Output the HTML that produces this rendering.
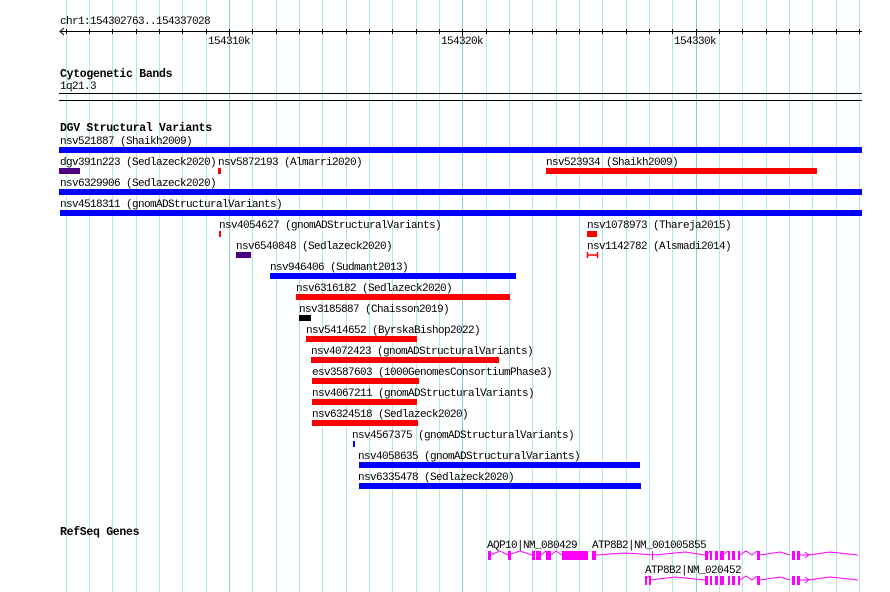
<!DOCTYPE html>
<html><head><style>
html,body{margin:0;padding:0;background:#fff;width:890px;height:592px;overflow:hidden}
svg text{font-family:"Liberation Mono","DejaVu Sans Mono",monospace;font-size:11px;letter-spacing:-0.6px;fill:#000}
svg text.b{font-weight:bold;font-size:11.5px;letter-spacing:-0.3px}
</style></head><body>
<svg width="890" height="592" xmlns="http://www.w3.org/2000/svg">
<g stroke="#b4e4ee" stroke-width="1">
<line x1="66.5" y1="0" x2="66.5" y2="592"/><line x1="89.5" y1="0" x2="89.5" y2="592"/><line x1="112.5" y1="0" x2="112.5" y2="592"/><line x1="136.5" y1="0" x2="136.5" y2="592"/><line x1="159.5" y1="0" x2="159.5" y2="592"/><line x1="182.5" y1="0" x2="182.5" y2="592"/><line x1="206.5" y1="0" x2="206.5" y2="592"/>
<line x1="252.5" y1="0" x2="252.5" y2="592"/><line x1="276.5" y1="0" x2="276.5" y2="592"/><line x1="299.5" y1="0" x2="299.5" y2="592"/><line x1="322.5" y1="0" x2="322.5" y2="592"/><line x1="346.5" y1="0" x2="346.5" y2="592"/><line x1="369.5" y1="0" x2="369.5" y2="592"/><line x1="392.5" y1="0" x2="392.5" y2="592"/><line x1="416.5" y1="0" x2="416.5" y2="592"/><line x1="439.5" y1="0" x2="439.5" y2="592"/>
<line x1="486.5" y1="0" x2="486.5" y2="592"/><line x1="509.5" y1="0" x2="509.5" y2="592"/><line x1="532.5" y1="0" x2="532.5" y2="592"/><line x1="556.5" y1="0" x2="556.5" y2="592"/><line x1="579.5" y1="0" x2="579.5" y2="592"/><line x1="602.5" y1="0" x2="602.5" y2="592"/><line x1="626.5" y1="0" x2="626.5" y2="592"/><line x1="649.5" y1="0" x2="649.5" y2="592"/><line x1="672.5" y1="0" x2="672.5" y2="592"/>
<line x1="719.5" y1="0" x2="719.5" y2="592"/><line x1="742.5" y1="0" x2="742.5" y2="592"/><line x1="766.5" y1="0" x2="766.5" y2="592"/><line x1="789.5" y1="0" x2="789.5" y2="592"/><line x1="812.5" y1="0" x2="812.5" y2="592"/><line x1="836.5" y1="0" x2="836.5" y2="592"/><line x1="859.5" y1="0" x2="859.5" y2="592"/>
</g>
<g stroke="#8ccbe0" stroke-width="1">
<line x1="229.5" y1="0" x2="229.5" y2="592"/><line x1="462.5" y1="0" x2="462.5" y2="592"/><line x1="696.5" y1="0" x2="696.5" y2="592"/>
</g>
<text x="60" y="24">chr1:154302763..154337028</text>
<line x1="60" y1="31.5" x2="862" y2="31.5" stroke="#000"/>
<path d="M64 28 L60 31.5 L64 35" fill="none" stroke="#000"/>
<g stroke="#000">
<line x1="66.5" y1="29" x2="66.5" y2="34"/><line x1="89.5" y1="29" x2="89.5" y2="34"/><line x1="112.5" y1="29" x2="112.5" y2="34"/><line x1="136.5" y1="29" x2="136.5" y2="34"/><line x1="159.5" y1="29" x2="159.5" y2="34"/><line x1="182.5" y1="29" x2="182.5" y2="34"/><line x1="206.5" y1="29" x2="206.5" y2="34"/><line x1="229.5" y1="29" x2="229.5" y2="36"/>
<line x1="252.5" y1="29" x2="252.5" y2="34"/><line x1="276.5" y1="29" x2="276.5" y2="34"/><line x1="299.5" y1="29" x2="299.5" y2="34"/><line x1="322.5" y1="29" x2="322.5" y2="34"/><line x1="346.5" y1="29" x2="346.5" y2="34"/><line x1="369.5" y1="29" x2="369.5" y2="34"/><line x1="392.5" y1="29" x2="392.5" y2="34"/><line x1="416.5" y1="29" x2="416.5" y2="34"/><line x1="439.5" y1="29" x2="439.5" y2="34"/><line x1="462.5" y1="29" x2="462.5" y2="36"/>
<line x1="486.5" y1="29" x2="486.5" y2="34"/><line x1="509.5" y1="29" x2="509.5" y2="34"/><line x1="532.5" y1="29" x2="532.5" y2="34"/><line x1="556.5" y1="29" x2="556.5" y2="34"/><line x1="579.5" y1="29" x2="579.5" y2="34"/><line x1="602.5" y1="29" x2="602.5" y2="34"/><line x1="626.5" y1="29" x2="626.5" y2="34"/><line x1="649.5" y1="29" x2="649.5" y2="34"/><line x1="672.5" y1="29" x2="672.5" y2="34"/><line x1="696.5" y1="29" x2="696.5" y2="36"/>
<line x1="719.5" y1="29" x2="719.5" y2="34"/><line x1="742.5" y1="29" x2="742.5" y2="34"/><line x1="766.5" y1="29" x2="766.5" y2="34"/><line x1="789.5" y1="29" x2="789.5" y2="34"/><line x1="812.5" y1="29" x2="812.5" y2="34"/><line x1="836.5" y1="29" x2="836.5" y2="34"/><line x1="859.5" y1="29" x2="859.5" y2="34"/>
</g>
<text x="208" y="44">154310k</text><text x="441" y="44">154320k</text><text x="674" y="44">154330k</text>

<text class="b" x="60" y="77">Cytogenetic Bands</text>
<text x="60" y="89">1q21.3</text>
<line x1="59" y1="93.5" x2="862" y2="93.5" stroke="#000"/>
<line x1="59" y1="100.5" x2="862" y2="100.5" stroke="#000"/>

<text class="b" x="60" y="131">DGV Structural Variants</text>
<text x="60" y="144">nsv521887 (Shaikh2009)</text>
<rect x="59" y="147" width="803" height="6" fill="#0000ff"/>
<text x="60" y="165">dgv391n223 (Sedlazeck2020)</text>
<rect x="59" y="168" width="21" height="6" fill="#4b0082"/>
<text x="218" y="165">nsv5872193 (Almarri2020)</text>
<rect x="218" y="168" width="3" height="6" fill="#ff0000"/>
<text x="546" y="165">nsv523934 (Shaikh2009)</text>
<rect x="546" y="168" width="271" height="6" fill="#ff0000"/>
<text x="60" y="186">nsv6329906 (Sedlazeck2020)</text>
<rect x="59" y="189" width="803" height="6" fill="#0000ff"/>
<text x="60" y="207">nsv4518311 (gnomADStructuralVariants)</text>
<rect x="60" y="210" width="802" height="6" fill="#0000ff"/>

<text x="219" y="228">nsv4054627 (gnomADStructuralVariants)</text>
<rect x="219" y="231" width="2" height="6" fill="#ff0000"/>
<text x="587" y="228">nsv1078973 (Thareja2015)</text>
<rect x="587" y="231" width="10" height="6" fill="#ff0000"/>
<text x="236" y="249">nsv6540848 (Sedlazeck2020)</text>
<rect x="236" y="252" width="15" height="6" fill="#4b0082"/>
<text x="587" y="249">nsv1142782 (Alsmadi2014)</text>
<path d="M587.5 252 V258 M597.5 252 V258 M587 255 H598" stroke="#ff0000" stroke-width="1.5"/>
<text x="270" y="270">nsv946406 (Sudmant2013)</text>
<rect x="270" y="273" width="246" height="6" fill="#0000ff"/>
<text x="296" y="291">nsv6316182 (Sedlazeck2020)</text>
<rect x="296" y="294" width="214" height="6" fill="#ff0000"/>
<text x="299" y="312">nsv3185887 (Chaisson2019)</text>
<rect x="299" y="315" width="12" height="6" fill="#000"/>
<text x="306" y="333">nsv5414652 (ByrskaBishop2022)</text>
<rect x="306" y="336" width="111" height="6" fill="#ff0000"/>
<text x="311" y="354">nsv4072423 (gnomADStructuralVariants)</text>
<rect x="311" y="357" width="188" height="6" fill="#ff0000"/>
<text x="312" y="375">esv3587603 (1000GenomesConsortiumPhase3)</text>
<rect x="312" y="378" width="107" height="6" fill="#ff0000"/>
<text x="312" y="396">nsv4067211 (gnomADStructuralVariants)</text>
<rect x="312" y="399" width="105" height="6" fill="#ff0000"/>
<text x="312" y="417">nsv6324518 (Sedlazeck2020)</text>
<rect x="312" y="420" width="106" height="6" fill="#ff0000"/>
<text x="352" y="438">nsv4567375 (gnomADStructuralVariants)</text>
<rect x="353" y="441" width="2" height="6" fill="#0000ff"/>
<text x="358" y="459">nsv4058635 (gnomADStructuralVariants)</text>
<rect x="359" y="462" width="281" height="6" fill="#0000ff"/>
<text x="358" y="480">nsv6335478 (Sedlazeck2020)</text>
<rect x="359" y="483" width="282" height="6" fill="#0000ff"/>

<text class="b" x="60" y="535">RefSeq Genes</text>
<text x="487" y="548">AQP10|NM_080429</text>
<text x="592" y="548">ATP8B2|NM_001005855</text>
<text x="645" y="573">ATP8B2|NM_020452</text>
<g fill="#ff00ff" stroke="none">
<path d="M490 555 L500 551 L508 555 L520 551 L532 555 M541 555 L546 551 M551 555 L556 551 L562 555" stroke="#ff00ff" fill="none"/>
<rect x="488" y="551" width="3" height="9"/><rect x="508" y="551" width="3" height="9"/>
<rect x="532" y="551" width="3" height="9"/><rect x="536" y="551" width="5" height="9"/>
<rect x="546" y="551" width="5" height="9"/><rect x="562" y="551" width="26" height="9"/>
<rect x="592" y="551" width="4" height="9"/>
<path d="M596 555 L625 553 L655 555 L685 552 L705 555 M760 555 L780 552 L790 555 M808 555 L830 552 L858 555" stroke="#ff00ff" fill="none"/>
<rect x="652" y="551" width="1" height="9"/>
<rect x="705" y="551" width="3" height="9"/><rect x="710" y="551" width="2" height="9"/><rect x="715" y="551" width="3" height="9"/><rect x="720" y="551" width="4" height="9"/><rect x="728" y="551" width="2" height="9"/><rect x="732" y="551" width="3" height="9"/><rect x="738" y="551" width="2" height="9"/>
<rect x="757" y="551" width="3" height="9"/><rect x="792" y="551" width="3" height="9"/><rect x="797" y="551" width="3" height="9"/>
<path d="M708 554 L710 551 M724 554 L728 551 M740 555 L746 551 L752 555 L757 551 M800 555 L808 555 M805 552 L809 555 L805 558" stroke="#ff00ff" fill="none"/>
<path d="M650 580 L675 577 L705 580 M760 580 L780 577 L790 580 M808 580 L830 577 L858 580" stroke="#ff00ff" fill="none"/>
<rect x="645" y="576" width="2" height="9"/><rect x="649" y="576" width="2" height="9"/>
<rect x="705" y="576" width="3" height="9"/><rect x="710" y="576" width="2" height="9"/><rect x="715" y="576" width="3" height="9"/><rect x="720" y="576" width="4" height="9"/><rect x="728" y="576" width="2" height="9"/><rect x="732" y="576" width="3" height="9"/><rect x="738" y="576" width="2" height="9"/>
<rect x="757" y="576" width="3" height="9"/><rect x="792" y="576" width="3" height="9"/><rect x="797" y="576" width="3" height="9"/>
<path d="M647 578 L649 576 M740 580 L746 576 L752 580 L757 576 M800 580 L808 580 M805 577 L809 580 L805 583" stroke="#ff00ff" fill="none"/>
</g>
</svg>
</body></html>
